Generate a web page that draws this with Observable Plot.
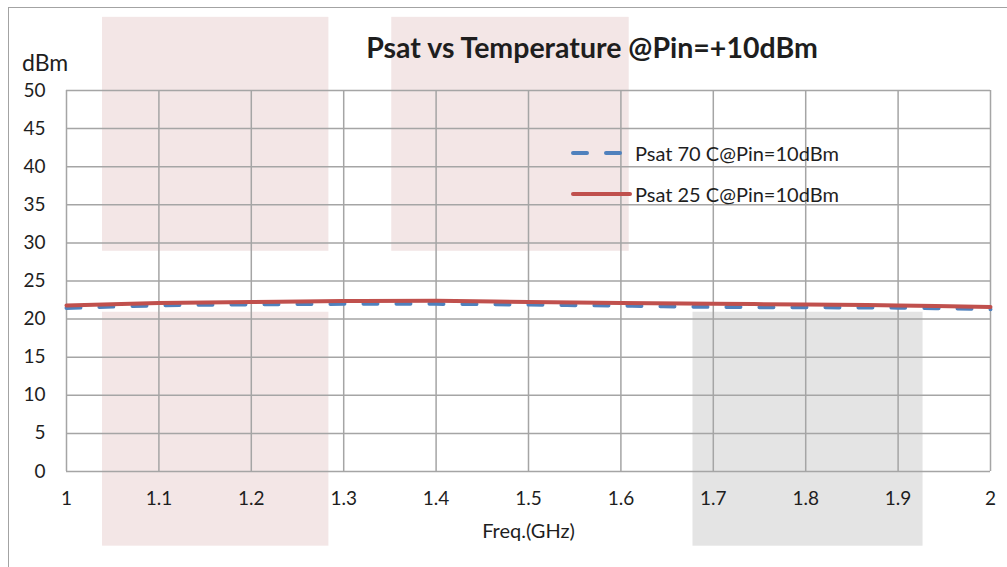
<!DOCTYPE html>
<html>
<head>
<meta charset="utf-8">
<script src="https://cdn.jsdelivr.net/npm/d3@7"></script>
<script src="https://cdn.jsdelivr.net/npm/@observablehq/plot@0.6"></script>
<style>
  html, body { margin: 0; background: #fff; overflow: hidden; }
  #wrap { position: relative; width: 1007px; height: 567px; overflow: hidden; background: #fff; font-family: Lato, "Open Sans", sans-serif; color: #1e1e1e; }
  #frame { position: absolute; left: 8px; top: 7px; right: 0; bottom: 0; border-top: 1.5px solid #a3a3a3; border-left: 1.5px solid #a3a3a3; }
  #chart { position: absolute; left: 0; top: 0; }
  #title { position: absolute; left: 592px; top: 33px; transform: translateX(-50%); font-size: 28.5px; font-weight: 700; line-height: 1; white-space: nowrap; }
  #unit { position: absolute; left: 22px; top: 51px; font-size: 23px; line-height: 1; }
  #legend { position: absolute; left: 571px; top: 132px; font-size: 20px; }
  .row { display: flex; align-items: center; height: 41px; white-space: nowrap; }
  .row svg { width: 64px; height: 10px; flex: none; }
</style>
</head>
<body>
<div id="wrap">
  <div id="frame"></div>
  <div id="chart"></div>
  <div id="title"></div>
  <div id="unit"></div>
  <div id="legend"></div>
</div>
<script>
// ---- data ----
const freq   = [1.0, 1.1, 1.2, 1.3, 1.4, 1.5, 1.6, 1.7, 1.8, 1.9, 2.0];
const psat70 = [21.45, 21.8, 21.93, 22.0, 22.0, 21.9, 21.76, 21.6, 21.55, 21.5, 21.3];
const psat25 = [21.8, 22.1, 22.24, 22.37, 22.4, 22.24, 22.1, 22.0, 21.93, 21.8, 21.6];
const seriesNames = ["Psat 70 C@Pin=10dBm", "Psat 25 C@Pin=10dBm"];
const xTicks = [1, 1.1, 1.2, 1.3, 1.4, 1.5, 1.6, 1.7, 1.8, 1.9, 2];
const xTickLabels = ["1", "1.1", "1.2", "1.3", "1.4", "1.5", "1.6", "1.7", "1.8", "1.9", "2"];
const yTicks = [0, 5, 10, 15, 20, 25, 30, 35, 40, 45, 50];
const titleText = "Psat vs Temperature @Pin=+10dBm";
const yUnit = "dBm";
const xLabel = "Freq.(GHz)";
// shaded background blocks (data units)
const shadeX1 = [1.039, 1.352, 1.039, 1.678];
const shadeX2 = [1.284, 1.609, 1.284, 1.927];
const shadeY1 = [28.9, 28.9, -9.8, -9.8];
const shadeY2 = [59.6, 59.6, 20.9, 20.9];
const shadeKind = ["pink", "pink", "pink", "grey"];

// ---- build tables ----
const colors = {"Psat 70 C@Pin=10dBm": "#4f81bd", "Psat 25 C@Pin=10dBm": "#c0504d"};
const s70 = freq.map((f, i) => ({f, v: psat70[i]}));
const s25 = freq.map((f, i) => ({f, v: psat25[i]}));
const shades = shadeX1.map((x1, i) => ({x1, x2: shadeX2[i], y1: shadeY1[i], y2: shadeY2[i], kind: shadeKind[i]}));
const shadeFill = {pink: "#f3e6e6", grey: "#e4e4e4"};

const gridColor = "#a5a5a5";
const chart = Plot.plot({
  width: 1007,
  height: 567,
  marginLeft: 66,
  marginRight: 17,
  marginTop: 90,
  marginBottom: 96,
  style: {fontFamily: "Lato, 'Open Sans', sans-serif", fontSize: "20px", color: "#1e1e1e", background: "transparent", overflow: "visible"},
  x: {domain: [1, 2]},
  y: {domain: [0, 50]},
  marks: [
    Plot.rect(shades, {x1: "x1", x2: "x2", y1: "y1", y2: "y2", fill: d => shadeFill[d.kind], clip: false}),
    Plot.gridX(xTicks, {stroke: gridColor, strokeOpacity: 1, strokeWidth: 1.5}),
    Plot.gridY(yTicks, {stroke: gridColor, strokeOpacity: 1, strokeWidth: 1.5}),
    Plot.line(s70, {x: "f", y: "v", stroke: colors[seriesNames[0]], strokeWidth: 4, strokeDasharray: "14,19", strokeLinecap: "round", curve: "catmull-rom"}),
    Plot.line(s25, {x: "f", y: "v", stroke: colors[seriesNames[1]], strokeWidth: 4, strokeLinecap: "round", curve: "catmull-rom"}),
    Plot.axisX(xTicks, {tickSize: 0, tickPadding: 20, tickFormat: (d, i) => xTickLabels[i], label: null, fontSize: 19}),
    Plot.axisY(yTicks, {tickSize: 0, tickPadding: 21, label: null, fontSize: 19}),
    Plot.text([xLabel], {frameAnchor: "bottom", dy: 66, text: d => d, fontSize: 20})
  ]
});
document.getElementById("chart").appendChild(chart);

document.getElementById("title").textContent = titleText;
document.getElementById("unit").textContent = yUnit;

const legend = document.getElementById("legend");
seriesNames.forEach((name, i) => {
  const row = document.createElement("div");
  row.className = "row";
  const end = i === 0 ? 51 : 59;
  const dash = i === 0 ? 'stroke-dasharray="14,19"' : "";
  row.innerHTML = `<svg viewBox="0 0 64 10"><line x1="2" y1="5" x2="${end}" y2="5" stroke="${colors[name]}" stroke-width="4" stroke-linecap="round" ${dash}/></svg><span>${name}</span>`;
  legend.appendChild(row);
});
</script>
</body>
</html>
